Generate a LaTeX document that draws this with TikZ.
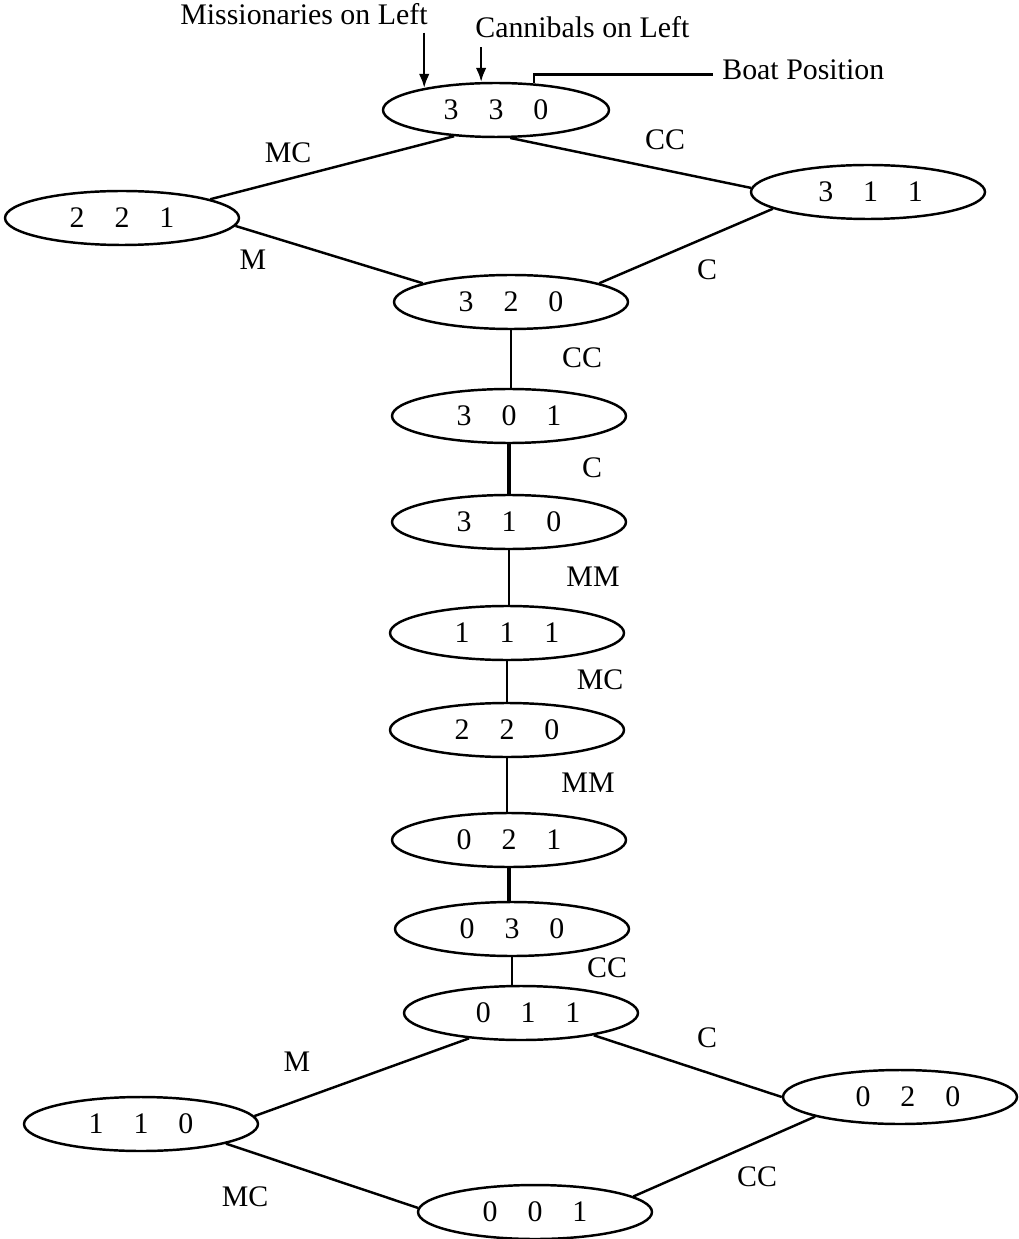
\documentclass[tikz,border=0pt]{standalone}
\usepackage{fontspec}
\setmainfont{Liberation Serif}
\usetikzlibrary{shapes.geometric,arrows.meta}

\tikzset{
  statebox/.style={draw, ellipse, line width=1.4pt, minimum width=4.68cm,
    minimum height=1.08cm, inner sep=0pt},
  movelabel/.style={inner sep=0pt},
  link/.style={line width=1.4pt},
  boldlink/.style={line width=2.6pt},
  pointer/.style={line width=1.4pt, -{Latex[length=8pt,width=6pt]}}
}

\begin{document}
\begin{tikzpicture}[x=0.02cm, y=-0.02cm, font=\fontsize{17}{20}\selectfont]
\useasboundingbox (0,0) rectangle (1018,1239);

% states (missionaries, cannibals, boat)
\node[statebox, minimum width=4.52cm] (s330) at (496,110) {3\quad 3\quad 0};
\node[statebox] (s221) at (122,218) {2\quad 2\quad 1};
\node[statebox] (s311) at (868,192) {\hspace*{3pt}3\quad 1\quad 1};
\node[statebox] (s320) at (511,302) {3\quad 2\quad 0};
\node[statebox] (s301) at (509,416) {3\quad 0\quad 1};
\node[statebox] (s310) at (509,522) {3\quad 1\quad 0};
\node[statebox] (s111) at (507,633) {1\quad 1\quad 1};
\node[statebox] (s220) at (507,730) {2\quad 2\quad 0};
\node[statebox] (s021) at (509,840) {0\quad 2\quad 1};
\node[statebox] (s030) at (512,929) {0\quad 3\quad 0};
\node[statebox] (s011) at (521,1013) {\hspace*{8pt}0\quad 1\quad 1};
\node[statebox] (s110) at (141,1124) {1\quad 1\quad 0};
\node[statebox] (s020) at (900,1097) {\hspace*{9pt}0\quad 2\quad 0};
\node[statebox] (s001) at (535,1212) {0\quad 0\quad 1};

% top diamond
\draw[link] (s330.212) -- (s221.12);
\draw[link] (s330.297) -- (s311.178);
\draw[link] (s221.356) -- (s320.168);
\draw[link] (s311.190) -- (s320.12);

% middle chain
\foreach \a/\b in {s320/s301, s310/s111, s111/s220, s220/s021, s030/s011}
    {\draw[link] (\a.south) -- (\a.south |- \b.north);}
\foreach \a/\b in {s301/s310, s021/s030}
    {\draw[boldlink] (\a.south) -- (\a.south |- \b.north);}

% bottom diamond
\draw[link] (s011.206) -- (s110.4);
\draw[link] (s011.343) -- (s020.180);
\draw[link] (s110.347) -- (s001.178);
\draw[link] (s001.9) -- (s020.193);

% moves
\foreach \n/\x/\y/\t in {mTa/288/153/MC, mTb/665/140/CC, mTc/253/260/M, mTd/707/270/C,
    mVa/582/358/CC, mVb/592/468/C, mVc/593/577/MM, mVd/600/680/MC, mVe/588/783/MM,
    mVf/607/968/CC, mBa/707/1038/C, mBb/297/1062/M, mBc/245/1197/MC, mBd/757/1177/CC}
    {\node[movelabel] (\n) at (\x,\y) {\t};}

% key
\node[anchor=base west, inner sep=0pt] (mtext) at (180,25) {Missionaries on Left};
\node[anchor=base west, inner sep=0pt] (ctext) at (475,38) {Cannibals on Left};
\node[anchor=base west, inner sep=0pt] (btext) at (722,80) {Boat Position};
\draw[pointer] ([yshift=-4pt]s330.163 |- mtext.south) -- (s330.163);
\draw[pointer] ([yshift=-5pt]s330.118 |- ctext.south) -- (s330.118);
\draw[link] (s330.35) |- ([xshift=-5pt,yshift=3pt]btext.base west);
\end{tikzpicture}
\end{document}
